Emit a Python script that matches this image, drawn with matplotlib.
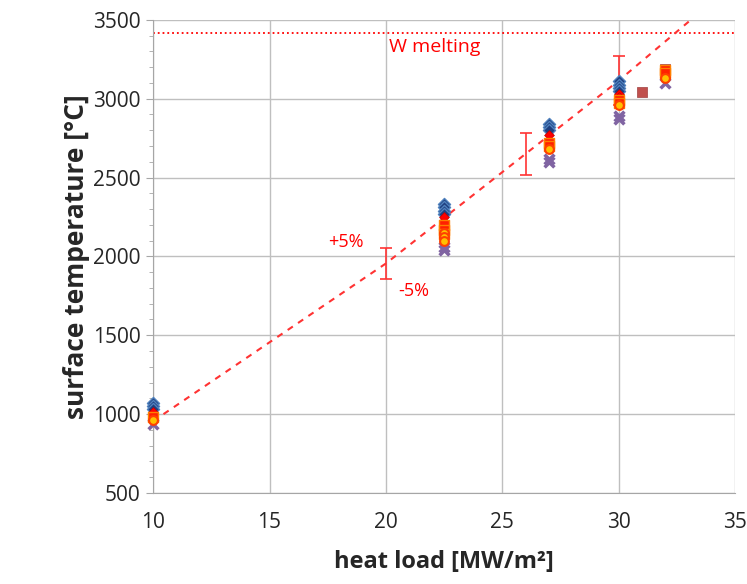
import numpy as np
import matplotlib.pyplot as plt

plt.rcParams['font.family'] = ['Open Sans', 'DejaVu Sans']

blue_x = [10, 10, 10, 22.5, 22.5, 22.5, 22.5, 27, 27, 27, 30, 30, 30, 30]
blue_y = [1070, 1050, 1030, 2330, 2310, 2290, 2270, 2840, 2820, 2800, 3110, 3090, 3070, 3050]

red_d_x = [10, 22.5, 27, 30, 30]
red_d_y = [1010, 2250, 2770, 3030, 3010]

sq_x = [10, 22.5, 22.5, 22.5, 27, 27, 30, 30, 32, 32]
sq_y = [980, 2200, 2170, 2140, 2720, 2700, 2990, 2970, 3180, 3160]

circ_x = [10, 22.5, 22.5, 22.5, 27, 30, 32]
circ_y = [960, 2150, 2120, 2100, 2680, 2960, 3130]

cross_x = [10, 22.5, 22.5, 27, 27, 30, 30, 32]
cross_y = [940, 2060, 2040, 2620, 2600, 2890, 2870, 3100]

brown_x = [31, 32]
brown_y = [3045, 3190]

# dashed reference line and +/-5% bars
line_x = [10, 20, 26, 30, 33.1]
line_y = [955, 1955, 2650, 3114, 3500]
err_x = [20, 26, 30]
err_y = [1955, 2650, 3114]
w_melt = 3415

fig = plt.figure(figsize=(7.47, 5.84), dpi=100)
ax = fig.add_axes([0.205, 0.156, 0.779, 0.810])

ax.axhline(w_melt, color='red', ls=':', lw=1.3)
ax.text(22.1, 3330, 'W melting', color='red', fontsize=14, ha='center', va='center')

ax.plot(line_x, line_y, color='#FF3333', ls=(0, (3, 3)), lw=1.5, zorder=4)
err_y = np.array(err_y)
ax.errorbar(err_x, err_y, yerr=0.05 * err_y, fmt='none', ecolor='#FF3333',
            elinewidth=1.2, capsize=4, capthick=1.2, zorder=4)
ax.text(18.3, 2090, '+5%', color='red', fontsize=13, ha='center', va='center')
ax.text(21.2, 1780, '-5%', color='red', fontsize=13, ha='center', va='center')

kw = dict(zorder=5, clip_on=False)
ax.scatter(blue_x, blue_y, marker='D', s=38, c='#1F3F7F', edgecolors='#4F81BD', lw=1, **kw)
ax.scatter(red_d_x, red_d_y, marker='D', s=25, c='#FF0000', edgecolors='#C00000', lw=0.5, **kw)
ax.scatter(brown_x, brown_y, marker='s', s=60, c='#C0504D', edgecolors='#A04040', lw=0.5, **kw)
ax.scatter(cross_x, cross_y, marker='x', s=50, c='#8064A2', lw=2.5, **kw)
ax.scatter(sq_x, sq_y, marker='s', s=55, c='#FF2000', edgecolors='#FF8000', lw=1, **kw)
ax.scatter(circ_x, circ_y, marker='o', s=40, c='#FFC000', edgecolors='#FF4000', lw=1.5, **kw)

ax.set_xlim(10, 35)
ax.set_ylim(500, 3500)
ax.set_xticks(np.arange(10, 36, 5))
ax.set_yticks(np.arange(500, 3501, 500))
ax.set_yticks(np.arange(500, 3501, 100), minor=True)
ax.grid(True, which='major', color='#BFBFBF', lw=1)
ax.set_axisbelow(True)
for s in ['top', 'right']:
    ax.spines[s].set_visible(False)
for s in ['left', 'bottom']:
    ax.spines[s].set_color('#A6A6A6')
ax.tick_params(which='both', colors='#A6A6A6', labelcolor='#262626', labelsize=15)
ax.tick_params(axis='y', which='major', length=5, pad=4)
ax.tick_params(axis='y', which='minor', length=3)
ax.tick_params(axis='x', length=0, pad=14)

ax.set_xlabel('heat load [MW/m²]', fontsize=17, fontweight='bold', color='#262626', labelpad=12)
ax.set_ylabel('surface temperature [°C]', fontsize=19, fontweight='bold', color='#262626', labelpad=2)

fig.savefig('out.png', dpi=100)
